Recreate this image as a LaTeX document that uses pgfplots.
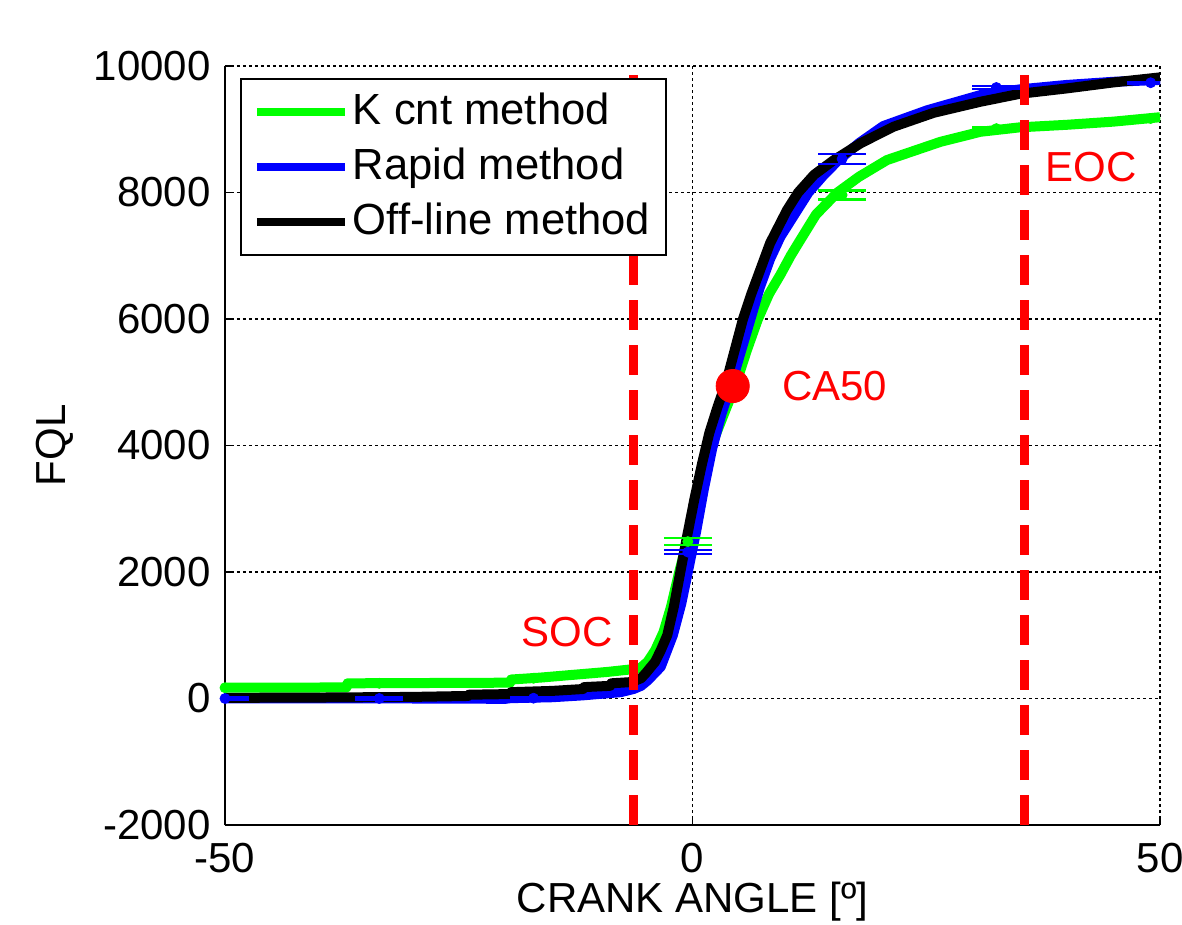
\documentclass[border=0pt]{standalone}
\usepackage{fontspec}
\setmainfont{Liberation Sans}
\usepackage{pgfplots}
\pgfplotsset{compat=1.18}
\definecolor{mgreen}{rgb}{0,1,0}
\definecolor{mblue}{rgb}{0,0,1}
\definecolor{mred}{rgb}{1,0,0}
\begin{document}
\fontsize{21}{25}\selectfont
\begin{tikzpicture}
\begin{axis}[name=ax,
  width=467.5pt, height=379.5pt, scale only axis,
  xmin=-50, xmax=50, ymin=-2000, ymax=10000,
  xtick={-50,0,50}, ytick={-2000,0,2000,4000,6000,8000,10000},
  axis x line*=bottom, axis y line*=left,
  axis line style={-, line width=1pt, black},
  tick align=inside, major tick length=4pt, tick style={black, line width=0.8pt},
  grid=major, major grid style={black, line width=0.9pt, dash pattern=on 1.3pt off 1.7pt},
  scaled y ticks=false,
  /pgf/number format/assume math mode=true,
  /pgf/number format/1000 sep={},
  tick label style={font=\fontsize{21}{25}\selectfont},
  xticklabel style={yshift=-2pt},
  xlabel={CRANK ANGLE [º]}, ylabel={FQL},
  label style={font=\fontsize{21}{25}\selectfont},
  xlabel style={at={(axis description cs:0.5,-0.101)}, anchor=center},
  ylabel style={at={(axis description cs:-0.182,0.5)}, anchor=center},
  legend style={at={(0.016,0.984)}, anchor=north west, draw=black, line width=1pt,
    fill=white, font=\fontsize{21.8}{25}\selectfont, row sep=4.5pt,
    inner xsep=6pt, inner ysep=5pt},
  legend cell align=left,
  legend image code/.code={\draw[#1, line width=4pt] (0pt,0pt) -- (44pt,0pt);},
]
% K cnt method
\addplot[mgreen, line width=5pt, line join=round] coordinates {
(-50,170) (-37,175) (-36.9,240) (-19.5,250) (-19.4,300) (-16.3,330) (-12.3,380)
(-9.1,420) (-6.6,460) (-5.6,480) (-4.8,580) (-4.0,760) (-3.1,1050) (-2.3,1450)
(-1.5,1950) (-0.6,2480) (0.6,3200) (1.5,3750) (2.3,4100) (3.5,4550) (4.7,5000)
(5.8,5500) (7.0,6000) (8.2,6400) (9.4,6700) (10.5,7000) (11.3,7194) (13.2,7650)
(15.5,8000) (17.8,8248) (20.8,8513) (26.5,8800) (30.8,8960) (35,9030) (40,9070)
(45,9120) (50,9190)};
\addlegendentry{K cnt method}
% Rapid method
\addplot[mblue, line width=5pt, line join=round] coordinates {
(-50,0) (-40,0) (-30,0) (-20,-5) (-19.5,5) (-15,20) (-11.7,50) (-7.7,100)
(-6.3,150) (-5.5,200) (-4.8,285) (-3.4,500) (-2.1,1000) (-1.2,1500) (-0.5,2000)
(0.4,2650) (1.2,3300) (2.1,3950) (3.1,4500) (4.2,5000) (5.2,5500) (6.2,6000)
(7.2,6500) (8.3,6950) (9.4,7300) (11.2,7720) (12.4,8000) (14,8270) (15.6,8510)
(17.8,8780) (20.4,9050) (25.1,9300) (30.8,9540) (35,9630) (40,9700) (45,9750) (50,9780)};
\addlegendentry{Rapid method}
% Off-line method
\addplot[black, line width=5pt, line join=round] coordinates {
(-50,10) (-40,15) (-30,25) (-24,40) (-23.9,60) (-19.5,70) (-19.4,100) (-15,120)
(-11.7,150) (-11.6,180) (-8.8,200) (-8.7,240) (-6.5,260) (-5.5,320) (-5,400)
(-4,580) (-3.4,760) (-2.7,1000) (-2,1450) (-1.3,2000) (-0.6,2550) (0.2,3150)
(1.0,3700) (1.8,4200) (2.7,4620) (3.6,5000) (4.5,5500) (5.4,6000) (6.3,6400)
(7.3,6800) (8.3,7200) (10.1,7720) (11.3,8000) (13,8280) (15.1,8510) (18,8780)
(21.5,9040) (25.8,9260) (30.8,9435) (35,9560) (40,9645) (45,9740) (50,9820)};
\addlegendentry{Off-line method}
% error bars
\addplot[forget plot, only marks, mgreen, mark=*, mark size=2.5pt,
  error bars/.cd, y dir=both, y explicit, error mark=-,
  error mark options={mgreen, rotate=90, mark size=12pt, line width=1.2pt},
  error bar style={mgreen, line width=1.2pt}]
  coordinates {(-50,170) +- (0,15) (-33.5,240) +- (0,15) (-17,320) +- (0,15)
  (-0.5,2480) +- (0,55) (16,7960) +- (0,72) (32.5,9010) +- (0,20) (49,9170) +- (0,15)};
\addplot[forget plot, only marks, mblue, mark=*, mark size=2.5pt,
  error bars/.cd, y dir=both, y explicit, error mark=-,
  error mark options={mblue, rotate=90, mark size=12pt, line width=1.2pt},
  error bar style={mblue, line width=1.2pt}]
  coordinates {(-50,0) +- (0,15) (-33.5,0) +- (0,15) (-17,5) +- (0,15)
  (-0.5,2315) +- (0,35) (16,8530) +- (0,75) (32.5,9660) +- (0,20) (49,9735) +- (0,15)};
% SOC / EOC
\addplot[forget plot, mred, line width=4.2pt, dash pattern=on 15pt off 7.5pt] coordinates {(-6.3,-2000) (-6.3,10000)};
\addplot[forget plot, mred, line width=4.2pt, dash pattern=on 15pt off 7.5pt] coordinates {(35.5,-2000) (35.5,10000)};
% CA50
\addplot[forget plot, only marks, mark=*, mark size=8.3pt, mred, mark options={draw=mred, fill=mred}] coordinates {(4.3,4940)};
\node[text=mred, font=\fontsize{21}{25}\selectfont] at (axis cs:-13.4,1044) {SOC};
\node[text=mred, font=\fontsize{21}{25}\selectfont] at (axis cs:42.6,8400) {EOC};
\node[text=mred, font=\fontsize{21}{25}\selectfont] at (axis cs:15.2,4937) {CA50};
\end{axis}
\pgfresetboundingbox
\path (ax.south west) ++(-112.5pt,-50pt) rectangle ++(591pt,462.5pt);
\end{tikzpicture}
\end{document}
